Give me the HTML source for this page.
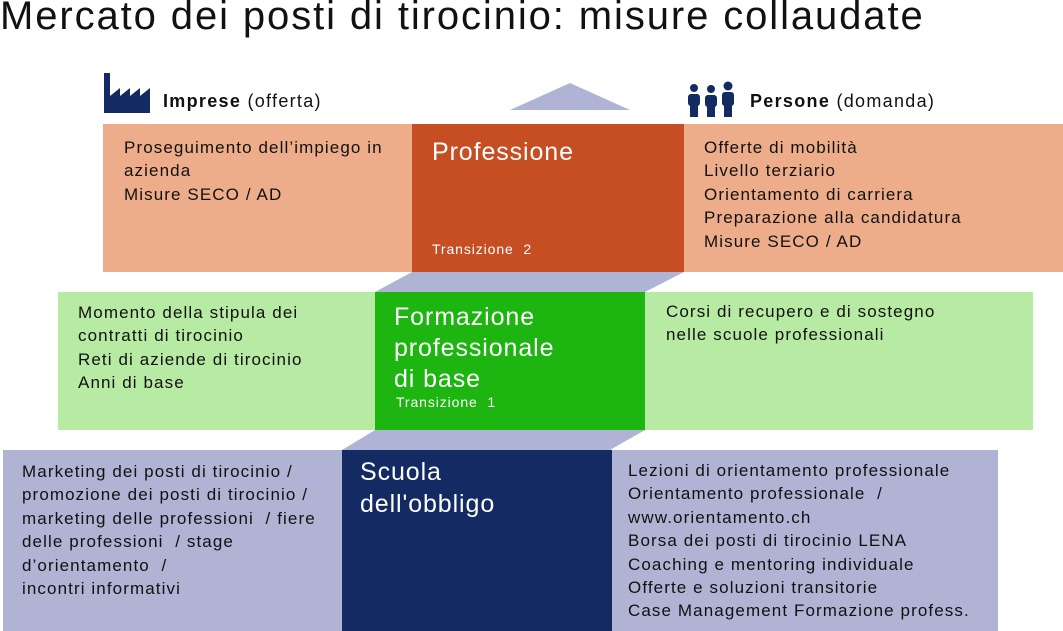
<!DOCTYPE html>
<html><head><meta charset="utf-8"><style>
body{margin:0;width:1063px;height:631px;background:#fff;position:relative;overflow:hidden;font-family:"Liberation Sans","DejaVu Sans",sans-serif;}
.a{position:absolute;}
.t{font-size:17px;line-height:23.4px;color:#111;letter-spacing:1.1px;}
.w{color:#fff;letter-spacing:0.9px;}
</style></head><body>
<div class="a" style="left:0;top:-6px;font-size:40px;color:#111;letter-spacing:1.9px;white-space:nowrap">Mercato dei posti di tirocinio: misure collaudate</div>
<svg class="a" style="left:0;top:0" width="1063" height="631">
<polygon points="510,110 570,83 630,110" fill="#B0B4D4"/>
<polygon points="412,272 684,272 645,292 375,292" fill="#B0B4D4"/>
<polygon points="375,430 645,430 610,450 342,450" fill="#B0B4D4"/>
<rect x="103" y="124" width="309" height="148" fill="#EEAD8A"/>
<rect x="412" y="124" width="272" height="148" fill="#C54E22"/>
<rect x="684" y="124" width="379" height="148" fill="#EEAD8A"/>
<rect x="58" y="292" width="317" height="138" fill="#B7EAA2"/>
<rect x="375" y="292" width="270" height="138" fill="#1DB510"/>
<rect x="645" y="292" width="388" height="138" fill="#B7EAA2"/>
<rect x="3" y="450" width="339" height="181" fill="#B0B3D3"/>
<rect x="342" y="450" width="270" height="181" fill="#132A63"/>
<rect x="612" y="450" width="386" height="181" fill="#B0B3D3"/>
<polygon points="104,73 110,73 110,96 120,88 120,96 130,88 130,96 140,88 140,96 150,88 150,113 104,113" fill="#132A63"/>
<g fill="#132A63">
<circle cx="694" cy="88" r="4"/><rect x="688" y="94" width="12" height="12" rx="3"/><rect x="690" y="104" width="8" height="13"/>
<circle cx="711" cy="89" r="4"/><rect x="705" y="95" width="12" height="12" rx="3"/><rect x="707" y="105" width="8" height="12"/>
<circle cx="728" cy="86" r="4.5"/><rect x="722" y="92" width="12" height="14" rx="3"/><rect x="724" y="104" width="8" height="13"/>
</g>
</svg>
<div class="a" style="left:163px;top:91px;font-size:18px;color:#111;letter-spacing:1.3px"><b>Imprese</b> (offerta)</div>
<div class="a" style="left:750px;top:91px;font-size:18px;color:#111;letter-spacing:1.3px"><b>Persone</b> (domanda)</div>
<div class="a t" style="left:124px;top:136px;width:285px">Proseguimento dell’impiego in azienda<br>Misure SECO / AD</div>
<div class="a w" style="left:432px;top:138px;font-size:25px">Professione</div>
<div class="a w" style="left:432px;top:241px;font-size:14px">Transizione&nbsp; 2</div>
<div class="a t" style="left:704px;top:136px">Offerte di mobilità<br>Livello terziario<br>Orientamento di carriera<br>Preparazione alla candidatura<br>Misure SECO / AD</div>
<div class="a t" style="left:78px;top:301px">Momento della stipula dei<br>contratti di tirocinio<br>Reti di aziende di tirocinio<br>Anni di base</div>
<div class="a w" style="left:394px;top:302px;font-size:25px;line-height:31px">Formazione<br>professionale<br>di base</div>
<div class="a w" style="left:396px;top:394px;font-size:14px">Transizione&nbsp; 1</div>
<div class="a t" style="left:666px;top:300px">Corsi di recupero e di sostegno<br>nelle scuole professionali</div>
<div class="a t" style="left:22px;top:460px;white-space:nowrap">Marketing dei posti di tirocinio /<br>promozione dei posti di tirocinio /<br>marketing delle professioni&nbsp; / fiere<br>delle professioni&nbsp; / stage<br>d’orientamento&nbsp; /<br>incontri informativi</div>
<div class="a w" style="left:360px;top:456px;font-size:25px;line-height:32px">Scuola<br>dell'obbligo</div>
<div class="a t" style="left:628px;top:459px;white-space:nowrap">Lezioni di orientamento professionale<br>Orientamento professionale&nbsp; /<br>www.orientamento.ch<br>Borsa dei posti di tirocinio LENA<br>Coaching e mentoring individuale<br>Offerte e soluzioni transitorie<br>Case Management Formazione profess.</div>
</body></html>
